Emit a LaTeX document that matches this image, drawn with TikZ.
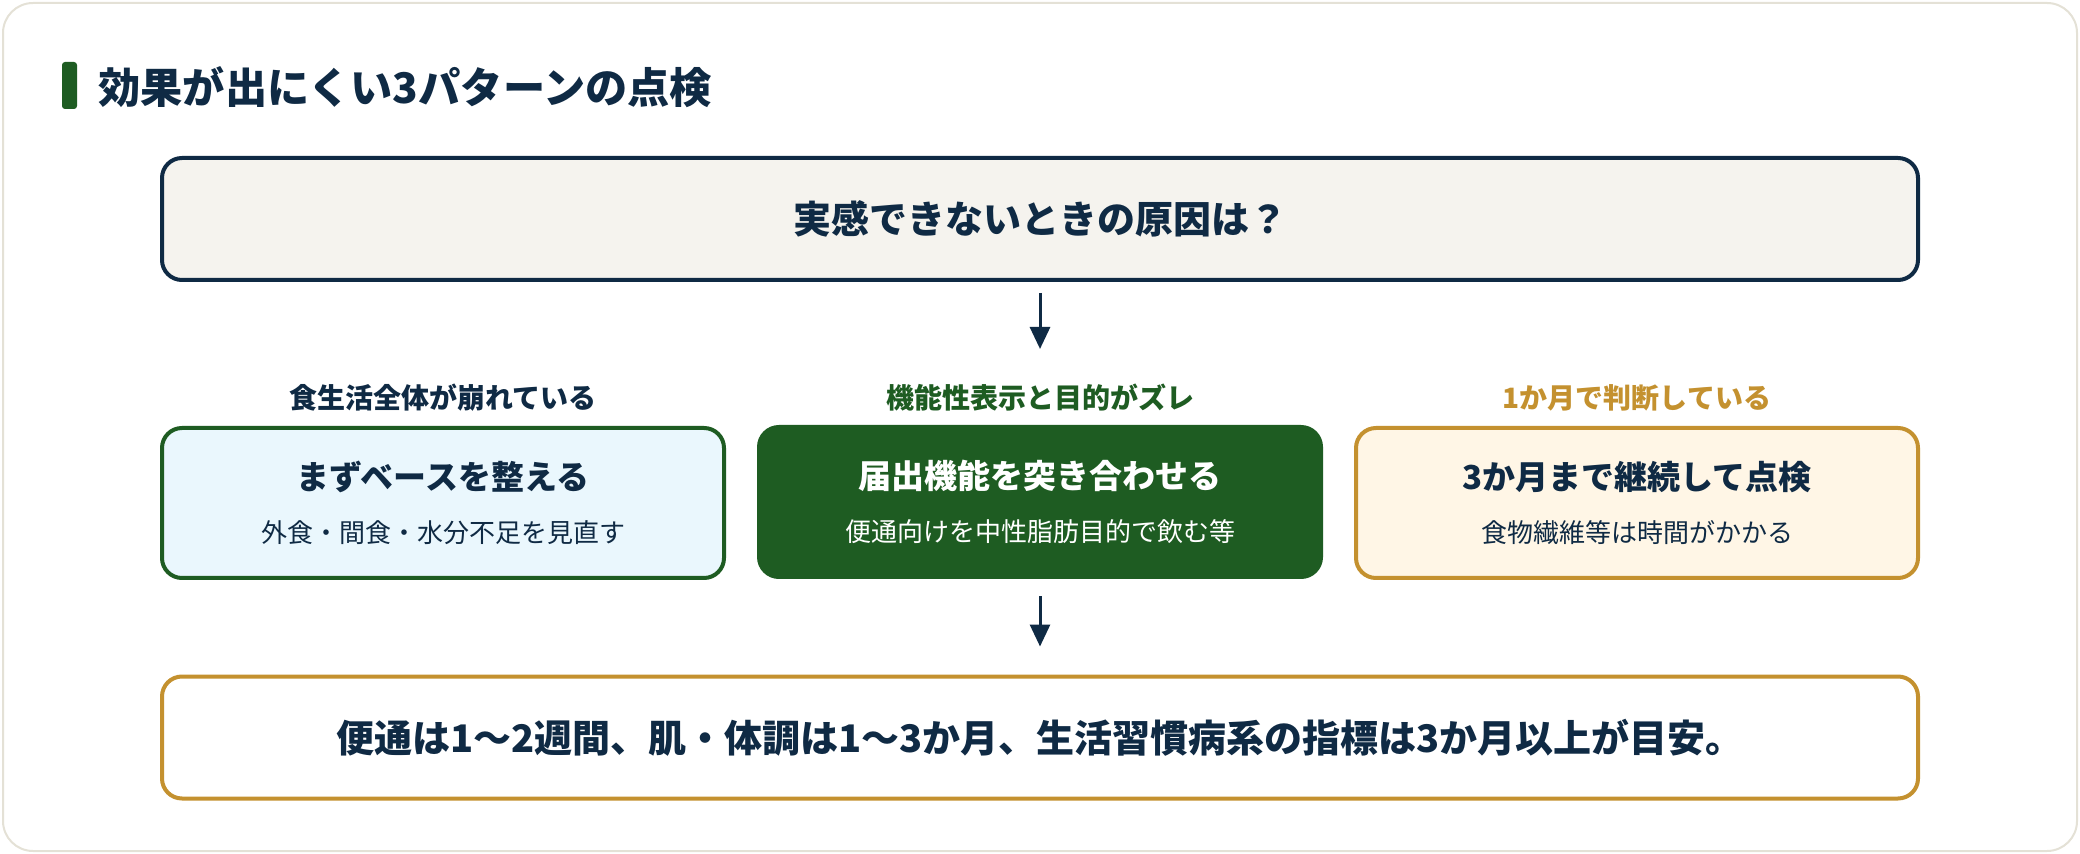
\documentclass[tikz,border=0pt]{standalone}
\usepackage{fontspec}
\setmainfont{Noto Sans CJK JP}
\usetikzlibrary{arrows.meta,positioning}

\definecolor{navy}{HTML}{0F2A44}
\definecolor{leaf}{HTML}{1E5C22}
\definecolor{ochre}{HTML}{C4912F}
\definecolor{paper}{HTML}{F5F3EE}
\definecolor{sky}{HTML}{EAF7FD}
\definecolor{cream}{HTML}{FFF6E6}
\definecolor{framegray}{HTML}{E4E1D6}

\begin{document}
\begin{tikzpicture}[x=0.5pt, y=-0.5pt, text=navy,
        box/.style={rounded corners=10pt, line width=2pt, minimum width=281pt, minimum height=75pt, align=center},
        wide/.style={rounded corners=10pt, line width=2pt, minimum width=878pt, minimum height=61pt, font=\fontsize{19}{23}\selectfont\bfseries},
        tag/.style={inner sep=0pt, font=\fontsize{14}{17}\selectfont\bfseries},
        arr/.style={line width=1.5pt, draw=navy, -{Triangle[length=11pt,width=10pt]}}]
        % Frame
        \useasboundingbox (0,0) rectangle (2080,854);
        \draw[framegray, line width=1pt, fill=white, rounded corners=15pt] (3,3) rectangle (2077,851);

        % Title
        \fill[leaf, rounded corners=1.5pt] (62,62) rectangle (77,109);
        \node[anchor=west, inner sep=0pt, font=\fontsize{21.1}{25}\selectfont\bfseries] (title) at (98,87) {効果が出にくい3パターンの点検};

        % Question
        \node[wide, draw=navy, fill=paper] (cause) at (1040,219) {実感できないときの原因は？};

        % Three patterns
        \node[tag] (tagA) at (443,398) {食生活全体が崩れている};
        \node[tag, text=leaf] (tagB) at (1040,398) {機能性表示と目的がズレ};
        \node[tag, text=ochre] (tagC) at (1637,398) {1か月で判断している};

        \node[box, draw=leaf, fill=sky] (base) at (443,503)
            {{\fontsize{16.5}{20}\selectfont\bfseries まずベースを整える}\\[13pt]{\fontsize{13}{16}\selectfont 外食・間食・水分不足を見直す}};
        \node[box, draw=leaf, fill=leaf, text=white] (match) at (1040,502)
            {{\fontsize{16.5}{20}\selectfont\bfseries 届出機能を突き合わせる}\\[13pt]{\fontsize{13}{16}\selectfont 便通向けを中性脂肪目的で飲む等}};
        \node[box, draw=ochre, fill=cream] (keep) at (1637,503)
            {{\fontsize{16.5}{20}\selectfont\bfseries 3か月まで継続して点検}\\[13pt]{\fontsize{13}{16}\selectfont 食物繊維等は時間がかかる}};

        % Guide
        \node[wide, draw=ochre, fill=white] (guide) at (1040,737.5) {便通は1〜2週間、肌・体調は1〜3か月、生活習慣病系の指標は3か月以上が目安。};

        % Arrows
        \draw[arr, shorten <=5.5pt, shorten >=17.5pt] (cause) -- (tagB);
        \draw[arr, shorten <=8.5pt, shorten >=14pt] (match) -- (guide);
    \end{tikzpicture}
\end{document}
